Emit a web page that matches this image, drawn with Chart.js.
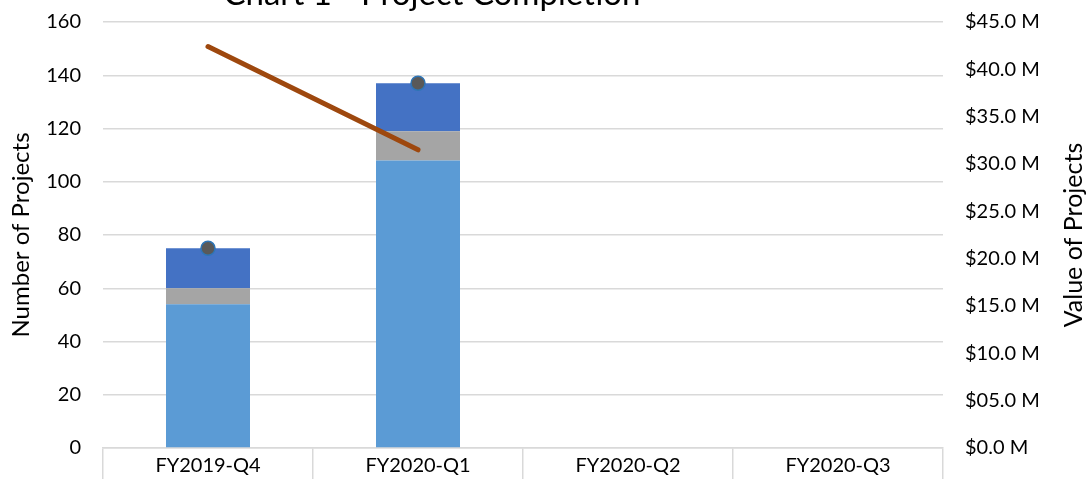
<!DOCTYPE html>
<html>
<head>
<meta charset="utf-8">
<script src="https://cdn.jsdelivr.net/npm/chart.js@4/dist/chart.umd.min.js"></script>
<style>
  html, body { margin: 0; padding: 0; background: #fff; overflow: hidden; }
  canvas { display: block; }
</style>
</head>
<body>
<canvas id="chart" width="1086" height="479"></canvas>
<script>
// Quarterly project counts (stacked) and total project value
const quarters = ['FY2019-Q4', 'FY2020-Q1', 'FY2020-Q2', 'FY2020-Q3'];
const completedProjects = [54, 108, null, null];
const closingProjects = [6, 11, null, null];
const remainingProjects = [15, 18, null, null];
const totalProjects = [75, 137, null, null];
const projectValueMillions = [42.4, 31.5, null, null];

const countTicks = [0, 20, 40, 60, 80, 100, 120, 140, 160];
const valueTicks = [0, 5, 10, 15, 20, 25, 30, 35, 40, 45];

const chartTitle = 'Chart 1 - Project Completion';
const countAxisTitle = 'Number of Projects';
const valueAxisTitle = 'Value of Projects';

const FONT = 'Lato, "Open Sans", sans-serif';
const INK = '#000000';
const GRID = '#D9D9D9';

function formatValue(v) {
  if (v === 0) return '$0.0 M';
  return '$' + v.toFixed(1).padStart(4, '0') + ' M';
}

// Vertical axes: fixed width, no extra label overhang padding
function fixVertical(width) {
  return (s) => {
    s.width = width;
    s.paddingTop = 0;
    s.paddingBottom = 0;
  };
}

// Chart title and the right-hand axis title (reads bottom-to-top)
const captions = {
  id: 'captions',
  afterDraw(chart) {
    const ctx = chart.ctx;
    const area = chart.chartArea;
    ctx.save();
    ctx.fillStyle = INK;
    ctx.font = '33px ' + FONT;
    ctx.textAlign = 'center';
    ctx.textBaseline = 'alphabetic';
    ctx.fillText(chartTitle, 432, 5);

    ctx.font = '25px ' + FONT;
    ctx.textBaseline = 'middle';
    ctx.translate(1074, (area.top + area.bottom) / 2);
    ctx.rotate(-Math.PI / 2);
    ctx.fillText(valueAxisTitle, 0, 0);
    ctx.restore();
  }
};

Chart.defaults.font.family = FONT;
Chart.defaults.color = INK;

new Chart(document.getElementById('chart'), {
  data: {
    labels: quarters,
    datasets: [
      {
        type: 'line',
        label: 'Project Value',
        data: projectValueMillions,
        yAxisID: 'y1',
        borderColor: '#9E480E',
        borderWidth: 5,
        borderCapStyle: 'round',
        pointRadius: 0,
        order: 0
      },
      {
        type: 'line',
        label: 'Total Projects',
        data: totalProjects,
        yAxisID: 'y',
        stack: 'totals',
        showLine: false,
        pointRadius: 7,
        pointBackgroundColor: '#595959',
        pointBorderColor: '#2E75B6',
        pointBorderWidth: 1.5,
        order: -1
      },
      {
        type: 'bar',
        label: 'Completed',
        data: completedProjects,
        yAxisID: 'y',
        stack: 'count',
        backgroundColor: '#5B9BD5',
        order: 3
      },
      {
        type: 'bar',
        label: 'Closing',
        data: closingProjects,
        yAxisID: 'y',
        stack: 'count',
        backgroundColor: '#A5A5A5',
        order: 3
      },
      {
        type: 'bar',
        label: 'Remaining',
        data: remainingProjects,
        yAxisID: 'y',
        stack: 'count',
        backgroundColor: '#4472C4',
        order: 3
      }
    ]
  },
  options: {
    responsive: false,
    animation: false,
    layout: { padding: { top: 22, left: 0, right: 0, bottom: 0 } },
    datasets: {
      bar: { categoryPercentage: 1, barPercentage: 0.4, borderWidth: 0 }
    },
    plugins: {
      legend: { display: false },
      tooltip: { enabled: false },
      title: { display: false }
    },
    scales: {
      x: {
        stacked: true,
        grid: {
          offset: true,
          drawOnChartArea: false,
          drawTicks: true,
          tickLength: 31,
          color: GRID,
          lineWidth: 1.5
        },
        border: { display: true, color: GRID, width: 1.5 },
        ticks: { padding: -25, maxRotation: 0, font: { size: 20 }, color: INK },
        afterFit: (s) => { s.height = 31; }
      },
      y: {
        stacked: true,
        position: 'left',
        min: countTicks[0],
        max: countTicks[countTicks.length - 1],
        afterBuildTicks: (s) => { s.ticks = countTicks.map(v => ({ value: v })); },
        ticks: { padding: 22, font: { size: 20 }, color: INK },
        grid: { color: GRID, lineWidth: 1.5, drawTicks: false },
        border: { display: false },
        title: {
          display: true,
          text: countAxisTitle,
          font: { size: 24 },
          color: INK,
          padding: { top: 7, bottom: 0 }
        },
        afterFit: fixVertical(103)
      },
      y1: {
        position: 'right',
        min: valueTicks[0],
        max: valueTicks[valueTicks.length - 1],
        afterBuildTicks: (s) => { s.ticks = valueTicks.map(v => ({ value: v })); },
        ticks: { padding: 22, font: { size: 20 }, color: INK, callback: (v) => formatValue(v) },
        grid: { drawOnChartArea: false, drawTicks: false },
        border: { display: false },
        afterFit: fixVertical(143)
      }
    }
  },
  plugins: [captions]
});
</script>
</body>
</html>
